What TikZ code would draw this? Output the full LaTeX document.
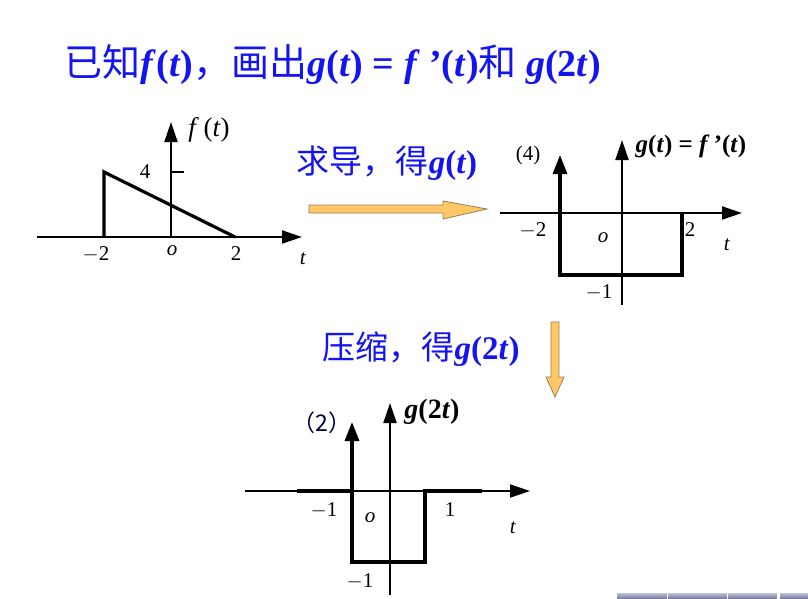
\documentclass[tikz,border=0pt]{standalone}
\usepackage{fontspec}
\setmainfont{Liberation Serif}
\newfontfamily\cjk{Noto Sans CJK SC}
\usetikzlibrary{arrows.meta,calc}
\definecolor{tlBlue}{RGB}{20,20,240}
\definecolor{tlOrange}{RGB}{255,200,100}
\definecolor{tlEdge}{RGB}{150,125,95}
\definecolor{tlNavTop}{RGB}{190,195,215}
\definecolor{tlNavBot}{RGB}{110,115,150}
\newcommand{\bi}[1]{\textbf{\textit{#1}}}

\tikzset{
  axis/.style={-{Triangle[length=20pt,width=13pt]}, line width=2pt},
  impulse/.style={-{Triangle[length=19pt,width=14pt]}, line width=3.2pt},
  pulse/.style={line width=3.2pt, line join=miter},
  lbl/.style={font=\fontsize{21}{21}\selectfont, inner sep=0pt},
  head/.style={text=tlBlue, inner sep=0pt},
  blockarrow/.style={fill=tlOrange, draw=tlEdge, line width=0.8pt}
}

\begin{document}
\begin{tikzpicture}[x=1pt,y=-1pt]
  \useasboundingbox (0,0) rectangle (808,599);

  % title
  \node[head, font=\fontsize{38}{38}\selectfont] (title) at (333,65)
    {{\cjk 已知}\bi{f}\textbf{(}\bi{t}\textbf{)}{\cjk ，画出}\bi{g}\textbf{(}\bi{t}\textbf{) = }\bi{f}\textbf{ ’(}\bi{t}\textbf{)}{\cjk 和} \bi{g}\textbf{(2}\bi{t}\textbf{)}};

  % f(t)
  \draw[axis] (37,237) -- (302,237);
  \draw[axis] (171,237) -- (171,122);
  \draw[line width=2pt] (171,172) -- (184,172);
  \draw[pulse] (104,237) -- (104,172) -- (235,237);
  \node[lbl] (fFour) at (145,172) {4};
  \node[lbl] (fMtwo) at (96,254) {$-$2};
  \node[lbl] (fO) at (172,251) {\textit{o}};
  \node[lbl] (fTwo) at (236,254) {2};
  \node[lbl] (fT) at (303,259) {\textit{t}};
  \node[lbl, font=\fontsize{27}{27}\selectfont] (fName) at (209,130) {\textit{f}\,(\textit{t})};

  % derivative step
  \node[head, font=\fontsize{33}{33}\selectfont] (derive) at (387,163)
    {{\cjk 求导，得}\bi{g}\textbf{(}\bi{t}\textbf{)}};
  \draw[blockarrow] (309,205) -- (443,205) -- (443,201) -- (487,209)
    -- (443,219) -- (443,213) -- (309,213) -- cycle;

  % g(t)
  \draw[axis] (500,213) -- (742,213);
  \draw[axis] (622,305) -- (622,140);
  \draw[impulse] (560,213) -- (560,155);
  \draw[pulse] (560,213) -- (560,275) -- (682,275) -- (682,213);
  \node[lbl, font=\fontsize{21}{21}\selectfont] (gW) at (528,155) {(4)};
  \node[lbl] (gMtwo) at (533,230) {$-$2};
  \node[lbl] (gO) at (603,238) {\textit{o}};
  \node[lbl] (gTwo) at (690,230) {2};
  \node[lbl] (gT) at (727,245) {\textit{t}};
  \node[lbl] (gMone) at (599,292) {$-$1};
  \node[lbl, font=\fontsize{25}{25}\selectfont] (gName) at (691,146)
    {\bi{g}\textbf{(}\bi{t}\textbf{) = }\bi{f}\textbf{\,'(}\bi{t}\textbf{)}};

  % compression step
  \node[head, font=\fontsize{33}{33}\selectfont] (squeeze) at (421,349)
    {{\cjk 压缩，得}\bi{g}\textbf{(2}\bi{t}\textbf{)}};
  \draw[blockarrow] (551,322) -- (559,322) -- (559,377) -- (564,377)
    -- (555,397) -- (546,377) -- (551,377) -- cycle;

  % g(2t)
  \draw[axis] (245,491) -- (530,491);
  \draw[axis] (390,595) -- (390,403);
  \draw[impulse] (352,491) -- (352,422);
  \draw[pulse] (297,491) -- (352,491) -- (352,562) -- (425,562) -- (425,491) -- (482,491);
  \node[lbl, text=black!75!blue, font=\fontsize{23}{23}\selectfont] (hW) at (322,423) {\cjk （2）};
  \node[lbl] (hMone) at (324,510) {$-$1};
  \node[lbl] (hO) at (370,518) {\textit{o}};
  \node[lbl] (hOne) at (450,510) {1};
  \node[lbl] (hT) at (513,528) {\textit{t}};
  \node[lbl] (hMoneB) at (360,581) {$-$1};
  \node[lbl, font=\fontsize{28}{28}\selectfont] (hName) at (432,412)
    {\bi{g}\textbf{(2}\bi{t}\textbf{)}};

  % navigation buttons
  \foreach \xa/\xb in {617/667,668/727,728/777,780/808}
    \shade[top color=tlNavTop, bottom color=tlNavBot] (\xa,593) rectangle (\xb,599);
\end{tikzpicture}
\end{document}
